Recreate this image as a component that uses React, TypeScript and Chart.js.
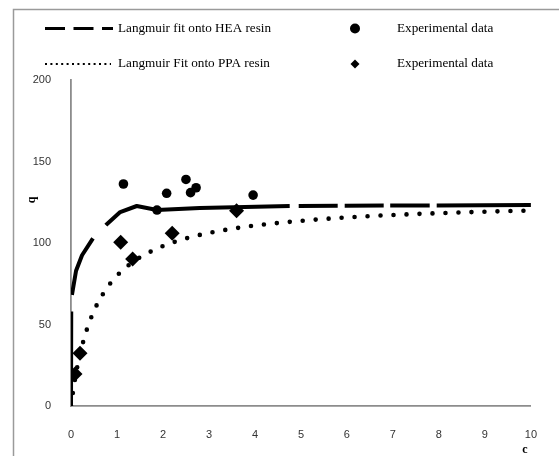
import React, { useEffect, useRef } from "react";
import { Chart, registerables } from "chart.js";

Chart.register(...registerables);

// Langmuir fit onto HEA resin
const heaFitC = [0, 0.005, 0.02, 0.11, 0.24, 0.48, 0.76, 1.07, 1.43, 1.87, 2.8, 4.76, 10];
const heaFitQ = [0, 58, 68, 83, 92.5, 103, 111, 119, 122.7, 120.2, 121.5, 122.7, 123.3];

// Langmuir fit onto PPA resin
const ppaFitC = [0, 0.05, 0.1, 0.15, 0.2, 0.3, 0.4, 0.5, 0.6, 0.8, 1.0, 1.2, 1.5, 2, 2.5, 3, 3.5, 4, 5, 6, 7, 8, 9, 10];
const ppaFitQ = [0, 9.9, 18.5, 25.8, 32.2, 42.9, 51.4, 58.4, 64.1, 73.2, 80.0, 85.2, 91.2, 98.1, 102.8, 106.2, 108.7, 110.7, 113.6, 115.7, 117.2, 118.3, 119.2, 119.9];

// Experimental data, HEA (circles)
const heaExpC = [1.14, 1.87, 2.08, 2.5, 2.6, 2.72, 3.96];
const heaExpQ = [136.2, 120.2, 130.5, 139, 130.9, 133.9, 129.4];

// Experimental data, PPA (diamonds)
const ppaExpC = [0.087, 0.196, 1.08, 1.34, 2.2, 3.6];
const ppaExpQ = [19.6, 32.3, 100.4, 90.2, 106, 119.8];

const legendLabels = [
  "Langmuir fit onto HEA resin",
  "Experimental data",
  "Langmuir Fit onto PPA resin",
  "Experimental data",
];
const xTitle = "c";
const yTitle = "q";

const toPts = (xs: number[], ys: number[]) => xs.map((x, i) => ({ x, y: ys[i] }));

const decorPlugin = {
  id: "decor",
  beforeDraw(chart: any) {
    const ctx = chart.ctx;
    ctx.save();
    ctx.fillStyle = "#ffffff";
    ctx.fillRect(0, 0, chart.width, chart.height);
    ctx.strokeStyle = "#9a9a9a";
    ctx.lineWidth = 1.5;
    ctx.beginPath();
    ctx.moveTo(13.5, chart.height + 5);
    ctx.lineTo(13.5, 9.5);
    ctx.lineTo(chart.width + 5, 9.5);
    ctx.stroke();
    ctx.restore();
  },
  afterDraw(chart: any) {
    const ctx = chart.ctx;
    ctx.save();
    // legend
    const row1 = 28.5;
    const row2 = 64;
    ctx.strokeStyle = "#000";
    ctx.lineWidth = 3;
    ctx.setLineDash([20, 8.5]);
    ctx.beginPath();
    ctx.moveTo(45, row1);
    ctx.lineTo(113, row1);
    ctx.stroke();
    ctx.lineWidth = 1.8;
    ctx.setLineDash([2, 3.4]);
    ctx.beginPath();
    ctx.moveTo(45, row2);
    ctx.lineTo(111, row2);
    ctx.stroke();
    ctx.setLineDash([]);
    ctx.fillStyle = "#000";
    ctx.beginPath();
    ctx.arc(355, row1, 5, 0, Math.PI * 2);
    ctx.fill();
    ctx.beginPath();
    ctx.moveTo(355, row2 - 4.5);
    ctx.lineTo(359.5, row2);
    ctx.lineTo(355, row2 + 4.5);
    ctx.lineTo(350.5, row2);
    ctx.closePath();
    ctx.fill();
    ctx.font = "13.2px 'Liberation Serif'";
    ctx.textBaseline = "middle";
    ctx.textAlign = "left";
    ctx.fillText(legendLabels[0], 118, row1);
    ctx.fillText(legendLabels[1], 397, row1);
    ctx.fillText(legendLabels[2], 118, row2);
    ctx.fillText(legendLabels[3], 397, row2);
    // axis titles
    ctx.font = "bold 12px 'Liberation Serif'";
    ctx.textAlign = "center";
    ctx.fillText(xTitle, 525, 450);
    ctx.translate(32, 200);
    ctx.rotate(-Math.PI / 2);
    ctx.fillText(yTitle, 0, 0);
    ctx.restore();
  },
};

export default function App() {
  const ref = useRef<HTMLCanvasElement | null>(null);
  useEffect(() => {
    if (!ref.current) return;
    const tickFont = { family: "'Liberation Sans', Arial, sans-serif", size: 11 };
    const chart = new Chart(ref.current, {
      type: "scatter",
      data: {
        datasets: [
          {
            label: legendLabels[0],
            data: toPts(heaFitC, heaFitQ),
            showLine: true,
            borderColor: "#000",
            borderWidth: 4,
            borderDash: [94.5, 16.5, 61.4, 18.4, 190.5, 9, 39, 7, 39, 6.5, 39.5, 7, 200, 10],
            borderCapStyle: "butt",
            borderJoinStyle: "round",
            pointRadius: 0,
            tension: 0,
            order: 3,
          },
          {
            label: legendLabels[2],
            data: toPts(ppaFitC, ppaFitQ),
            showLine: true,
            borderColor: "#000",
            borderWidth: 4.6,
            borderDash: [0, 13],
            borderCapStyle: "round",
            pointRadius: 0,
            tension: 0.3,
            cubicInterpolationMode: "monotone",
            order: 3,
          },
          {
            label: legendLabels[1],
            data: toPts(heaExpC, heaExpQ),
            pointStyle: "circle",
            pointRadius: 4.8,
            backgroundColor: "#000",
            borderColor: "#000",
            borderWidth: 0,
            order: 1,
          },
          {
            label: legendLabels[3],
            data: toPts(ppaExpC, ppaExpQ),
            pointStyle: "rectRot",
            pointRadius: 7.5,
            backgroundColor: "#000",
            borderColor: "#000",
            borderWidth: 0,
            order: 1,
          },
        ],
      },
      options: {
        responsive: false,
        animation: false,
        layout: { padding: { top: 80, right: 28, bottom: 0, left: 0 } },
        plugins: { legend: { display: false }, tooltip: { enabled: false } },
        scales: {
          x: {
            type: "linear",
            min: 0,
            max: 10,
            ticks: { stepSize: 1, padding: 22, font: tickFont, color: "#333" },
            grid: { display: false, drawTicks: false },
            border: { display: true, color: "#8c8c8c", width: 1.8 },
            afterFit: (s: any) => {
              s.height = 50;
            },
          },
          y: {
            min: 0,
            max: 200,
            ticks: { stepSize: 50, padding: 20, font: tickFont, color: "#333" },
            grid: { display: false, drawTicks: false },
            border: { display: true, color: "#8c8c8c", width: 1.8 },
            afterFit: (s: any) => {
              s.width = 71;
            },
          },
        },
      },
      plugins: [decorPlugin],
    } as any);
    return () => chart.destroy();
  }, []);
  return (
    <div style={{ position: "fixed", left: 0, top: 0, width: 559, height: 456 }}>
      <canvas ref={ref} width={559} height={456} style={{ display: "block" }} />
    </div>
  );
}
